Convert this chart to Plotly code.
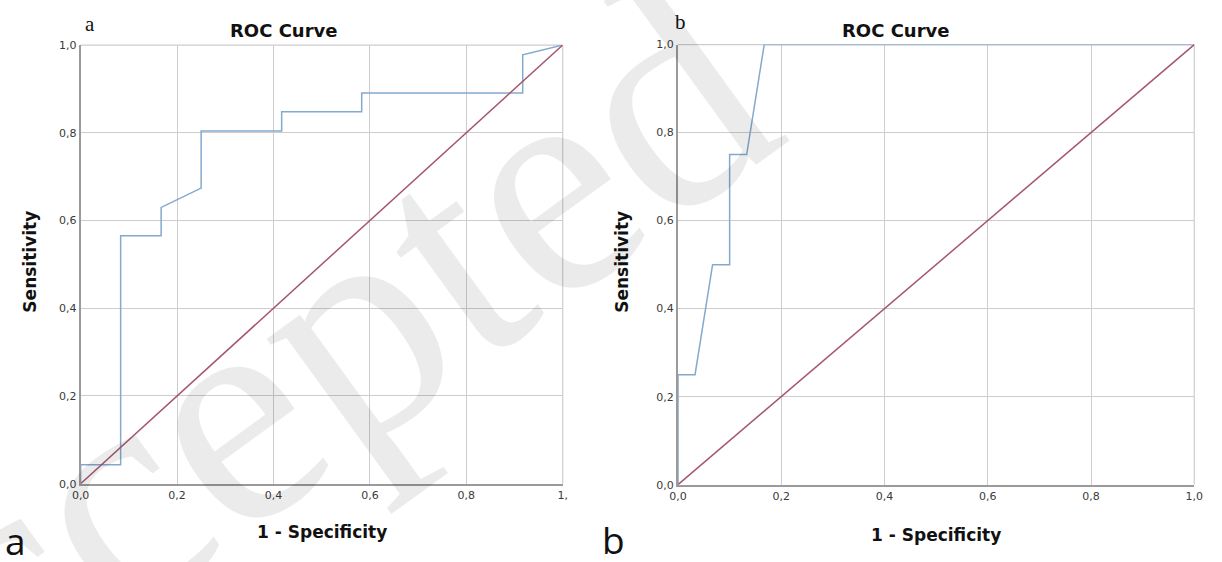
import plotly.graph_objects as go

W, H = 1222, 562

# ---------------- data ----------------
tick_vals = [0.0, 0.2, 0.4, 0.6, 0.8, 1.0]
y_tick_text = ["0,0", "0,2", "0,4", "0,6", "0,8", "1,0"]
x_tick_text_a = ["0,0", "0,2", "0,4", "0,6", "0,8", "1,"]
x_tick_text_b = ["0,0", "0,2", "0,4", "0,6", "0,8", "1,0"]

# Panel a ROC curve (1 - specificity, sensitivity)
fpr_a = [0.0, 0.0, 0.083, 0.083, 0.167, 0.167, 0.25, 0.25, 0.417, 0.417, 0.583, 0.583, 0.917, 0.917, 1.0]
tpr_a = [0.0, 0.043, 0.043, 0.565, 0.565, 0.630, 0.674, 0.804, 0.804, 0.848, 0.848, 0.891, 0.891, 0.978, 1.0]

# Panel b ROC curve
fpr_b = [0.0, 0.0, 0.033, 0.067, 0.1, 0.1, 0.133, 0.167, 1.0]
tpr_b = [0.0, 0.25, 0.25, 0.5, 0.5, 0.75, 0.75, 1.0, 1.0]

# Reference (chance) line
ref_x = [0.0, 1.0]
ref_y = [0.0, 1.0]

panel_titles = ["ROC Curve", "ROC Curve"]
x_title = "1 - Specificity"
y_title = "Sensitivity"

# ---------------- styles ----------------
ROC_COLOR = "#84a9cf"
REF_COLOR = "#a5566c"
GRID = "#cdcdcd"
AXIS = "#9a9a9a"
TICK_FONT = dict(family="DejaVu Sans", size=11, color="#3a3a3a")
TITLE_FONT = dict(family="DejaVu Sans", size=17, color="#111111")


def px(x):
    return x / W


def py(y):
    return 1 - y / H


dom_a_x = [px(72.7), px(562)]
dom_a_y = [py(489), py(40)]
dom_b_x = [px(679), px(1203)]
dom_b_y = [py(490), py(39.5)]

fig = go.Figure()

fig.add_trace(go.Scatter(x=fpr_a, y=tpr_a, mode="lines", line=dict(color=ROC_COLOR, width=1.5),
                         xaxis="x", yaxis="y", showlegend=False))
fig.add_trace(go.Scatter(x=ref_x, y=ref_y, mode="lines", line=dict(color=REF_COLOR, width=1.5),
                         xaxis="x", yaxis="y", showlegend=False))
fig.add_trace(go.Scatter(x=fpr_b, y=tpr_b, mode="lines", line=dict(color=ROC_COLOR, width=1.5),
                         xaxis="x2", yaxis="y2", showlegend=False))
fig.add_trace(go.Scatter(x=ref_x, y=ref_y, mode="lines", line=dict(color=REF_COLOR, width=1.5),
                         xaxis="x2", yaxis="y2", showlegend=False))


def axis(domain, anchor, ticktext):
    return dict(domain=domain, anchor=anchor, range=[0, 1], tickvals=tick_vals, ticktext=ticktext,
                showgrid=True, gridcolor=GRID, gridwidth=1, showline=True, linecolor=AXIS,
                linewidth=2, zeroline=False, ticks="", tickfont=TICK_FONT, fixedrange=True)


fig.update_layout(
    width=W, height=H,
    margin=dict(l=0, r=0, t=0, b=0),
    paper_bgcolor="white", plot_bgcolor="white",
    xaxis=axis(dom_a_x, "y", x_tick_text_a),
    yaxis=axis(dom_a_y, "x", y_tick_text),
    xaxis2=axis(dom_b_x, "y2", x_tick_text_b),
    yaxis2=axis(dom_b_y, "x2", y_tick_text),
)

# top / right frame lines (light, like gridlines)
for xr, yr in (("x", "y"), ("x2", "y2")):
    fig.add_shape(type="line", xref=f"{xr} domain", yref=f"{yr} domain", x0=0, x1=1, y0=1, y1=1,
                  line=dict(color=GRID, width=1.2), layer="below")
    fig.add_shape(type="line", xref=f"{xr} domain", yref=f"{yr} domain", x0=1, x1=1, y0=0, y1=1,
                  line=dict(color=GRID, width=1.2), layer="below")

ann = []
# panel titles
ann.append(dict(text="<b>%s</b>" % panel_titles[0], x=px(279), y=py(25), font=dict(family="DejaVu Sans", size=18, color="#111")))
ann.append(dict(text="<b>%s</b>" % panel_titles[1], x=px(900), y=py(25), font=dict(family="DejaVu Sans", size=18, color="#111")))
# axis titles
ann.append(dict(text="<b>%s</b>" % x_title, x=px(318), y=py(538), font=TITLE_FONT))
ann.append(dict(text="<b>%s</b>" % x_title, x=px(941), y=py(542), font=TITLE_FONT))
ann.append(dict(text="<b>%s</b>" % y_title, x=px(21), y=py(262), textangle=-90, font=TITLE_FONT))
ann.append(dict(text="<b>%s</b>" % y_title, x=px(622), y=py(262), textangle=-90, font=TITLE_FONT))
# panel letters (top, serif)
ann.append(dict(text="a", x=px(82), y=py(18), font=dict(family="Liberation Serif", size=21, color="#111")))
ann.append(dict(text="b", x=px(682), y=py(16), font=dict(family="Liberation Serif", size=21, color="#111")))
# panel letters (bottom, large sans)
ann.append(dict(text="a", x=px(7), y=py(575), yanchor="bottom", font=dict(family="Open Sans", size=37, color="#111")))
ann.append(dict(text="b", x=px(614), y=py(574), yanchor="bottom", font=dict(family="Open Sans", size=37, color="#111")))
# watermark
ann.append(dict(text="Accepted", x=px(235), y=py(410), textangle=-36,
                font=dict(family="Liberation Serif", size=320, color="rgba(0,0,0,0.08)")))

for a in ann:
    a.setdefault("yanchor", "middle")
    a.update(xref="paper", yref="paper", showarrow=False, xanchor="center")
    fig.add_annotation(**a)

fig.write_html("out.html", config={"displayModeBar": False},
               post_script="document.body.style.margin='0';document.body.style.overflow='hidden';")
